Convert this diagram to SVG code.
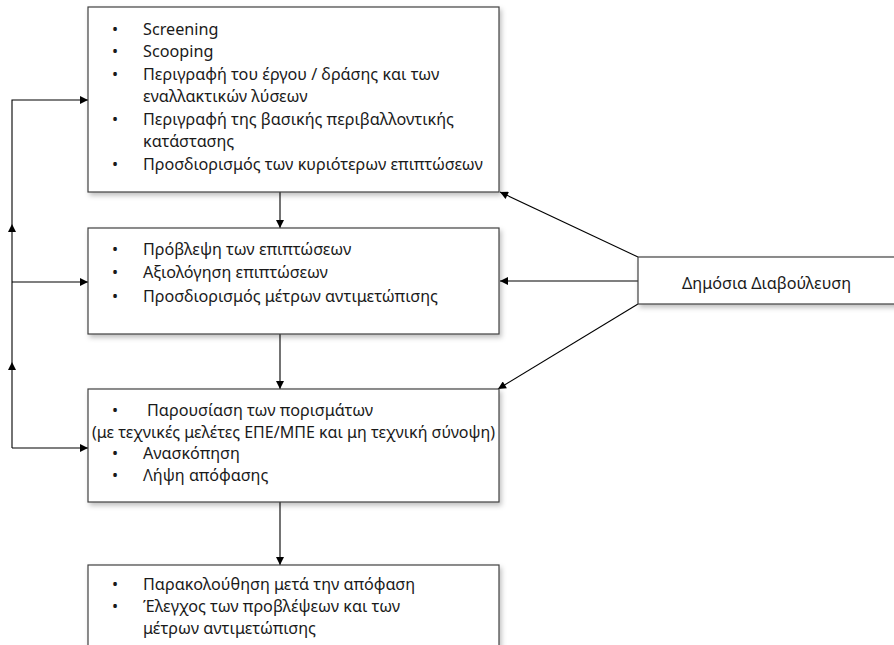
<svg xmlns="http://www.w3.org/2000/svg" width="894" height="645" viewBox="0 0 894 645">
<defs>
<marker id="ah" viewBox="0 0 10 10" refX="10" refY="5" markerWidth="9" markerHeight="8" markerUnits="userSpaceOnUse" orient="auto"><path d="M0,0 L10,5 L0,10 Z" fill="#000"/></marker>
<filter id="sh" x="-5%" y="-10%" width="115%" height="130%"><feDropShadow dx="2" dy="3" stdDeviation="2.5" flood-color="#000" flood-opacity="0.25"/></filter>
</defs>
<style>
.box{fill:#fff;stroke:#404040;stroke-width:1.2;filter:url(#sh)}
.t{font-family:"Noto Sans","Liberation Sans",sans-serif;font-size:16.2px;fill:#1a1a1a}
.c{fill:none;stroke:#000;stroke-width:1.1;marker-end:url(#ah)}
</style>
<rect width="894" height="645" fill="#fff"/>
<g id="connectors">
<line class="c" x1="280" y1="192" x2="280" y2="228"/>
<line class="c" x1="280" y1="334" x2="280" y2="389"/>
<line class="c" x1="280" y1="502" x2="280" y2="565"/>
<line class="c" x1="638" y1="257" x2="500" y2="192"/>
<line class="c" x1="638" y1="281" x2="500" y2="281"/>
<line class="c" x1="638" y1="304" x2="498" y2="389"/>
<line class="c" x1="12" y1="448" x2="88" y2="448"/>
<line class="c" x1="12" y1="448" x2="12" y2="362"/>
<line class="c" x1="12" y1="362" x2="12" y2="224"/>
<line class="c" x1="12" y1="282" x2="88" y2="282"/>
<polyline class="c" points="12,224 12,100 88,100"/>
</g>
<g id="box1">
<rect class="box" x="88" y="7" width="411" height="185"/>
<text class="t" x="112" y="35">•</text><text class="t" x="143" y="35">Screening</text>
<text class="t" x="112" y="57">•</text><text class="t" x="143" y="57">Scooping</text>
<text class="t" x="112" y="80">•</text><text class="t" x="143" y="80">Περιγραφή του έργου / δράσης και των</text>
<text class="t" x="143" y="102">εναλλακτικών λύσεων</text>
<text class="t" x="112" y="125">•</text><text class="t" x="143" y="125">Περιγραφή της βασικής περιβαλλοντικής</text>
<text class="t" x="143" y="147">κατάστασης</text>
<text class="t" x="112" y="170">•</text><text class="t" x="143" y="170">Προσδιορισμός των κυριότερων επιπτώσεων</text>
</g>
<g id="box2">
<rect class="box" x="88" y="228" width="411" height="106"/>
<text class="t" x="112" y="255">•</text><text class="t" x="143" y="255">Πρόβλεψη των επιπτώσεων</text>
<text class="t" x="112" y="278">•</text><text class="t" x="143" y="278">Αξιολόγηση επιπτώσεων</text>
<text class="t" x="112" y="302">•</text><text class="t" x="143" y="302">Προσδιορισμός μέτρων αντιμετώπισης</text>
</g>
<g id="box3">
<rect class="box" x="88" y="389" width="411" height="113"/>
<text class="t" x="112" y="416">•</text><text class="t" x="147" y="416">Παρουσίαση των πορισμάτων</text>
<text class="t" x="92" y="438" textLength="403" lengthAdjust="spacingAndGlyphs">(με τεχνικές μελέτες ΕΠΕ/ΜΠΕ και μη τεχνική σύνοψη)</text>
<text class="t" x="112" y="459">•</text><text class="t" x="143" y="459">Ανασκόπηση</text>
<text class="t" x="112" y="481">•</text><text class="t" x="143" y="481">Λήψη απόφασης</text>
</g>
<g id="box4">
<rect class="box" x="88" y="565" width="411" height="100"/>
<text class="t" x="112" y="590">•</text><text class="t" x="143" y="590">Παρακολούθηση μετά την απόφαση</text>
<text class="t" x="112" y="612">•</text><text class="t" x="143" y="612">Έλεγχος των προβλέψεων και των</text>
<text class="t" x="143" y="634">μέτρων αντιμετώπισης</text>
</g>
<g id="box5">
<rect class="box" x="638" y="257" width="270" height="47"/>
<text class="t" x="682" y="289">Δημόσια Διαβούλευση</text>
</g>
</svg>
